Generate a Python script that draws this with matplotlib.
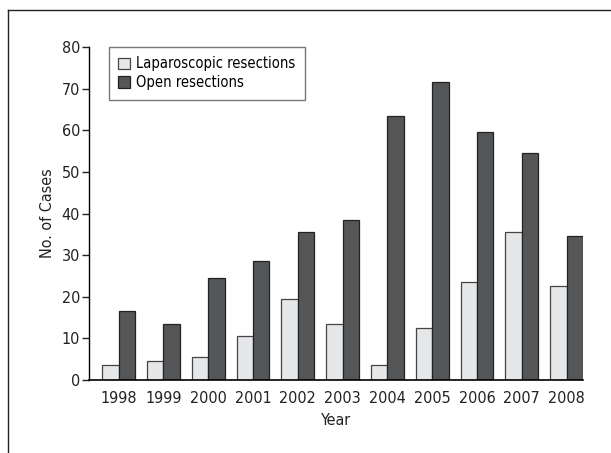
import numpy as np
import matplotlib
matplotlib.use("Agg")
import matplotlib.pyplot as plt
from matplotlib.lines import Line2D

plt.rcParams['font.family'] = ['Liberation Sans Narrow', 'DejaVu Sans']
plt.rcParams['font.stretch'] = 'condensed'

# donnees
years = ["1998", "1999", "2000", "2001", "2002", "2003", "2004", "2005", "2006", "2007", "2008"]
laparo = [3.5, 4.5, 5.5, 10.5, 19.5, 13.5, 3.5, 12.5, 23.5, 35.5, 22.5]
open_res = [16.5, 13.5, 24.5, 28.5, 35.5, 38.5, 63.5, 71.5, 59.5, 54.5, 34.5]

fig = plt.figure(figsize=(6.11, 4.53), dpi=100)
ax = fig.add_axes([89 / 611, 73 / 453, 494 / 611, 333 / 453])

x = np.arange(len(years))
w = 0.365
ax.bar(x - w / 2, laparo, w, color="#e6e7e9", edgecolor="#444444", linewidth=0.9,
       label="Laparoscopic resections")
ax.bar(x + w / 2, open_res, w, color="#555658", edgecolor="#222222", linewidth=0.9,
       label="Open resections")

ax.set_xlim(-0.66, len(years) - 1 + w)
ax.set_ylim(0, 80)
ax.set_yticks(range(0, 81, 10))
ax.set_xticks(x)
ax.set_xticklabels(years)
ax.tick_params(axis="x", length=0, pad=8, labelsize=11.5, colors="#222222")
ax.tick_params(axis="y", length=5, width=1, pad=1.5, labelsize=11.5, colors="#222222")

for s in ["top", "right"]:
    ax.spines[s].set_visible(False)
ax.spines["left"].set_linewidth(1)
ax.spines["bottom"].set_linewidth(1.2)

ax.set_xlabel("Year", fontsize=11.5, color="#222222")
ax.set_ylabel("No. of Cases", fontsize=11.5, color="#222222")
ax.xaxis.set_label_coords(0.5, -0.098)
ax.yaxis.set_label_coords(-0.068, 0.5)

leg = ax.legend(loc="upper left", bbox_to_anchor=(109 / 611, 1 - 47 / 453),
                bbox_transform=fig.transFigure, borderaxespad=0, fancybox=False,
                fontsize=10.5, handlelength=0.8, handleheight=0.8, handletextpad=0.4,
                labelspacing=0.25, borderpad=0.65)
leg.get_frame().set_edgecolor("#555555")
leg.get_frame().set_linewidth(1)

# cadre (haut et gauche seulement)
fig.add_artist(Line2D([8 / 611, 1], [1 - 10 / 453, 1 - 10 / 453], color="#222222", lw=1))
fig.add_artist(Line2D([8 / 611, 8 / 611], [0, 1 - 10 / 453], color="#222222", lw=1))

fig.savefig("out.png", dpi=100)
